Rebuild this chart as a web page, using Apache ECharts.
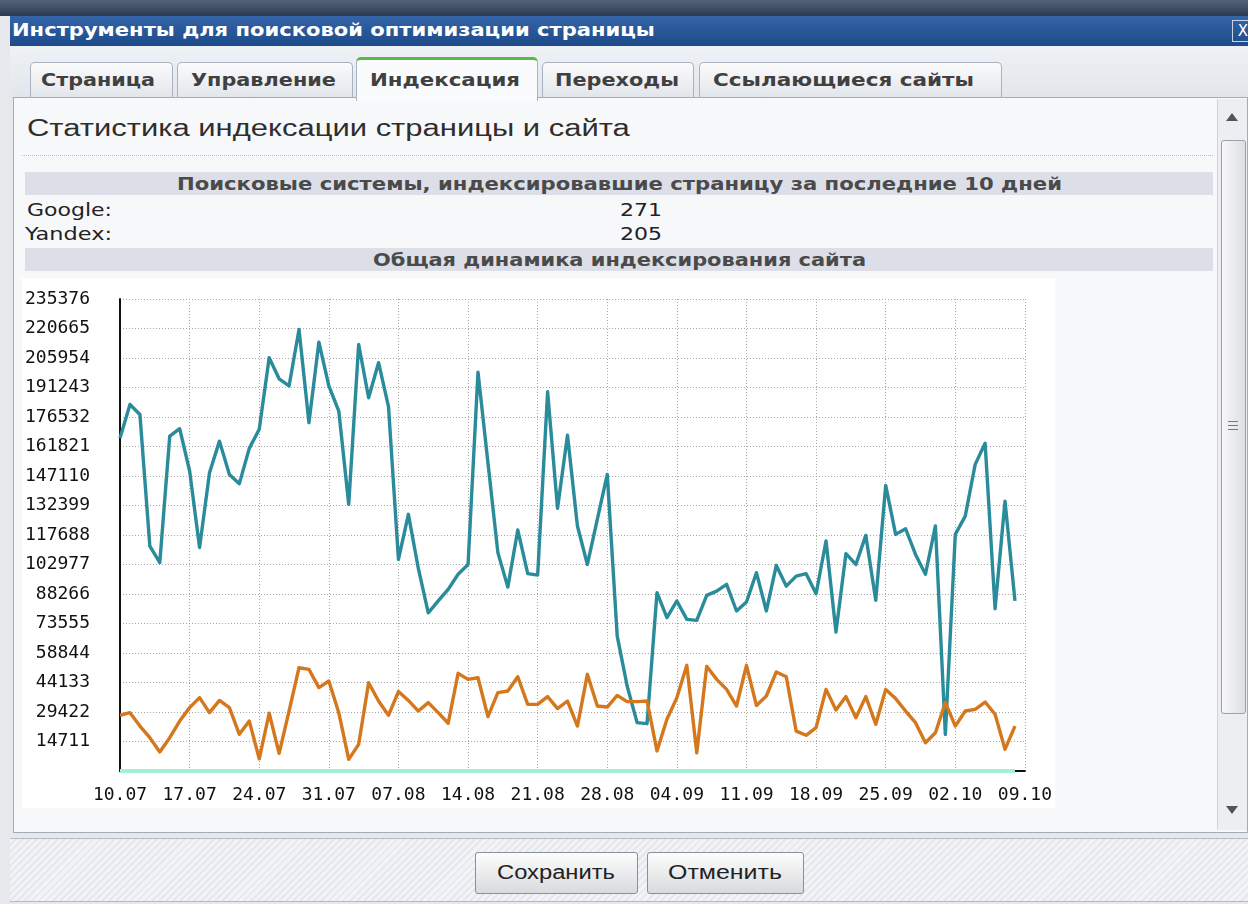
<!DOCTYPE html>
<html>
<head>
<meta charset="utf-8">
<script src="https://cdn.jsdelivr.net/npm/echarts@6/dist/echarts.min.js"></script>
<style>
  body { margin: 0; width: 1248px; height: 904px; overflow: hidden; position: relative; background: #e6e8ec; font-family: 'DejaVu Sans', sans-serif; }
  .abs { position: absolute; }
  .fit { position: absolute; white-space: nowrap; transform-origin: 0 50%; }
  #topstrip { left: 0; top: 0; width: 1248px; height: 16px; background: linear-gradient(#53627a, #2c3a52); }
  #titlebar { left: 10px; top: 16px; width: 1238px; height: 30px; background: linear-gradient(#3465a8, #1d4a89); }
  #closebtn { left: 1232px; top: 20px; width: 20px; height: 20px; border: 1px solid #c8d4e6; color: #fff; font-size: 15px; line-height: 20px; text-align: center; }
  #tabstrip { left: 10px; top: 46px; width: 1238px; height: 52px; background: linear-gradient(#eef1f5, #e2e6ec); }
  .tab { position: absolute; top: 62px; height: 35px; border: 1px solid #a9b2c0; border-bottom: none; border-radius: 5px 5px 0 0; background: linear-gradient(#fbfbfc, #e1e5eb); }
  .tab.active { top: 57px; height: 41px; background: #fafbfc; border-top: 3px solid #58b848; }
  .tabtxt { font-weight: bold; font-size: 17px; color: #404040; line-height: 20px; }
  #panel { left: 13px; top: 97px; width: 1233px; height: 734px; border: 1px solid #a3acb9; background: #f7f8fa; }
  #sep { left: 22px; top: 155px; width: 1191px; height: 0; border-top: 1px dotted #b9bdc4; }
  .bar { position: absolute; left: 25px; width: 1188px; height: 23px; background: #dcdfe8; }
  .bartxt { font-weight: bold; font-size: 17px; color: #4a4a4a; line-height: 20px; }
  .rowtxt { font-size: 17px; color: #222; line-height: 20px; }
  #chart { left: 22px; top: 278px; width: 1033px; height: 530px; }
  #scroll { left: 1217px; top: 99px; width: 29px; height: 731px; background: #eceef1; border-left: 1px solid #d0d4da; }
  #thumb { left: 1221px; top: 140px; width: 23px; height: 572px; border: 1px solid #9aa1ab; border-radius: 3px; background: linear-gradient(90deg, #f7f7f7, #dedfe2); }
  .grip { position: absolute; left: 1228px; width: 10px; height: 1px; background: #777; }
  .arrow { position: absolute; left: 1226px; width: 0; height: 0; border-left: 6px solid transparent; border-right: 6px solid transparent; }
  #footer { left: 10px; top: 838px; width: 1238px; height: 62px; border-top: 1px solid #b3bac5; border-bottom: 1px solid #b3bac5;
    background: repeating-linear-gradient(135deg, #f2f3f6 0 3px, #e4e7eb 3px 5px); }
  .btn { position: absolute; top: 852px; height: 40px; border: 1px solid #8b8f96; border-radius: 3px; background: linear-gradient(#fdfdfd, #d9dadd); }
  .btntxt { font-family: 'Liberation Sans', sans-serif; font-size: 20px; color: #222; line-height: 24px; }
</style>
</head>
<body>
<div class="abs" id="topstrip"></div>
<div class="abs" id="titlebar"></div>
<span class="fit" data-w="643" style="left:12px;top:20px;font-weight:bold;font-size:17px;line-height:20px;color:#fff">Инструменты для поисковой оптимизации страницы</span>
<div class="abs" id="closebtn">X</div>
<div class="abs" id="tabstrip"></div>
<div class="tab" style="left:30px;width:141px"></div>
<div class="tab" style="left:177px;width:174px"></div>
<div class="tab" style="left:542px;width:150px"></div>
<div class="tab" style="left:699px;width:301px"></div>
<div class="abs" id="panel"></div>
<div class="tab active" style="left:356px;width:180px"></div>
<span class="fit tabtxt" data-w="114" style="left:41px;top:70px">Страница</span>
<span class="fit tabtxt" data-w="145" style="left:191px;top:70px">Управление</span>
<span class="fit tabtxt" data-w="150" style="left:370px;top:70px">Индексация</span>
<span class="fit tabtxt" data-w="124" style="left:555px;top:70px">Переходы</span>
<span class="fit tabtxt" data-w="261" style="left:713px;top:70px">Ссылающиеся сайты</span>

<span class="fit" data-w="603" style="left:27px;top:115px;font-family:'Liberation Sans',sans-serif;font-size:23px;line-height:26px;color:#2e2e2e">Статистика индексации страницы и сайта</span>
<div class="abs" id="sep"></div>

<div class="bar" style="top:172px"></div>
<span class="fit bartxt" data-w="885" style="left:177px;top:174px">Поисковые системы, индексировавшие страницу за последние 10 дней</span>
<span class="fit rowtxt" data-w="85" style="left:27px;top:200px">Google:</span>
<span class="fit rowtxt" data-w="42" style="left:620px;top:200px">271</span>
<span class="fit rowtxt" data-w="87" style="left:25px;top:224px">Yandex:</span>
<span class="fit rowtxt" data-w="42" style="left:620px;top:224px">205</span>
<div class="bar" style="top:248px"></div>
<span class="fit bartxt" data-w="493" style="left:373px;top:250px">Общая динамика индексирования сайта</span>

<div class="abs" id="chart"></div>

<div class="abs" id="scroll"></div>
<div class="arrow" style="top:113px;border-bottom:8px solid #555"></div>
<div class="abs" id="thumb"></div>
<div class="grip" style="top:421px"></div>
<div class="grip" style="top:425px"></div>
<div class="grip" style="top:429px"></div>
<div class="arrow" style="top:806px;border-top:8px solid #555"></div>

<div class="abs" id="footer"></div>
<div class="btn" style="left:475px;width:161px"></div>
<div class="btn" style="left:647px;width:155px"></div>
<span class="fit btntxt" data-w="118" style="left:497px;top:860px">Сохранить</span>
<span class="fit btntxt" data-w="114" style="left:668px;top:860px">Отменить</span>

<script>
// подписи оси X (раз в неделю, с 10.07 по 09.10)
const tickLabels = ['10.07', '17.07', '24.07', '31.07', '07.08', '14.08', '21.08',
  '28.08', '04.09', '11.09', '18.09', '25.09', '02.10', '09.10']

// по дням, начиная с 10.07
const googlePages = [
  166000, 182800, 177800, 112200, 103900, 167000, 170700, 149600, 111400, 148700,
  164500, 147900, 143300, 160900, 170400, 206100, 195600, 192000, 220200, 173700,
  213900, 192000, 179500, 133000, 212700, 186100, 203600, 181700, 105500, 128000,
  101000, 78900, 84800, 90600, 98100, 103000, 198900, 153700, 108900, 91700,
  120200, 98400, 97700, 189100, 131000, 167500, 122200, 103000, 125500, 147900,
  67300, 42400, 24100, 23600, 88900, 76500, 84800, 75600, 75100, 87600,
  89700, 93100, 79800, 84300, 98900, 79800, 102500, 92200, 97200, 98400,
  88400, 114700, 69300, 108400, 103000, 117500, 85100, 142400, 118000, 120800,
  108000, 98100, 122200, 18300, 118000, 127100, 152900, 163400, 80900, 134600,
  84800
]

const yandexPages = [
  27800, 29100, 22400, 16600, 9500, 16600, 24900, 31600, 36600, 29100,
  35200, 31600, 18300, 24900, 6100, 28800, 8800, 29900, 51500, 50700,
  41600, 44900, 29100, 5800, 13300, 44000, 34900, 27800, 39600, 35200,
  29900, 34100, 29100, 23800, 48700, 45700, 46500, 27100, 39100, 39900,
  47000, 33200, 33200, 37100, 31100, 34900, 22400, 48200, 32400, 31900,
  37700, 34600, 34600, 34900, 10000, 25800, 36600, 52700, 9100, 52200,
  45700, 40700, 32400, 52700, 32700, 37400, 49400, 47000, 19900, 17800,
  21600, 40700, 30400, 37100, 26600, 37100, 23300, 40700, 36100, 29900,
  24100, 14100, 19100, 34100, 22400, 29900, 30700, 34400, 28300, 10800,
  22400
]

const otherPages = [
  0, 0, 0, 0, 0, 0, 0, 0, 0, 0, 0, 0, 0, 0, 0, 0, 0, 0, 0, 0,
  0, 0, 0, 0, 0, 0, 0, 0, 0, 0, 0, 0, 0, 0, 0, 0, 0, 0, 0, 0,
  0, 0, 0, 0, 0, 0, 0, 0, 0, 0, 0, 0, 0, 0, 0, 0, 0, 0, 0, 0,
  0, 0, 0, 0, 0, 0, 0, 0, 0, 0, 0, 0, 0, 0, 0, 0, 0, 0, 0, 0,
  0, 0, 0, 0, 0, 0, 0, 0, 0, 0, 0
]

const yStep = 14711
const yMax = 235376

// подгоняем ширину подписей интерфейса
document.querySelectorAll('[data-w]').forEach(function (el) {
  const w = el.getBoundingClientRect().width
  el.style.transform = 'scaleX(' + (+el.dataset.w / w).toFixed(3) + ')'
})

function byDay(arr) {
  return arr.map((v, i) => [i, v])
}

function lineSeries(arr, color, width) {
  return {
    type: 'line',
    data: byDay(arr),
    showSymbol: false,
    lineStyle: { color: color, width: width, join: 'round' },
    silent: true
  }
}

const monoLabel = {
  fontFamily: 'DejaVu Sans Mono',
  fontSize: 18,
  color: '#111'
}
const dots = { color: '#a8a8a8', width: 1, type: [1, 2] }

const myChart = echarts.init(document.getElementById('chart'))
myChart.setOption({
  animation: false,
  backgroundColor: '#ffffff',
  grid: { left: 96, right: 26, top: 21, bottom: 37 },
  xAxis: {
    type: 'value',
    min: 0,
    max: 91,
    interval: 7,
    axisLine: { lineStyle: { color: '#111', width: 2 } },
    axisTick: { show: false },
    axisLabel: Object.assign({
      margin: 15,
      formatter: function (v) { return tickLabels[Math.round(v / 7)] }
    }, monoLabel),
    splitLine: { lineStyle: dots }
  },
  yAxis: {
    type: 'value',
    min: 0,
    max: yMax,
    interval: yStep,
    axisLine: { show: true, lineStyle: { color: '#111', width: 2 } },
    axisTick: { show: false },
    axisLabel: Object.assign({
      margin: 30,
      padding: [0, 0, 8, 0],
      formatter: function (v) { return v === 0 ? '' : String(v) }
    }, monoLabel),
    splitLine: { lineStyle: dots }
  },
  series: [
    lineSeries(googlePages, '#2a8b9b', 3.4),
    lineSeries(yandexPages, '#d4771d', 3.4),
    lineSeries(otherPages, '#a4f0d3', 4)
  ]
})
</script>
</body>
</html>
